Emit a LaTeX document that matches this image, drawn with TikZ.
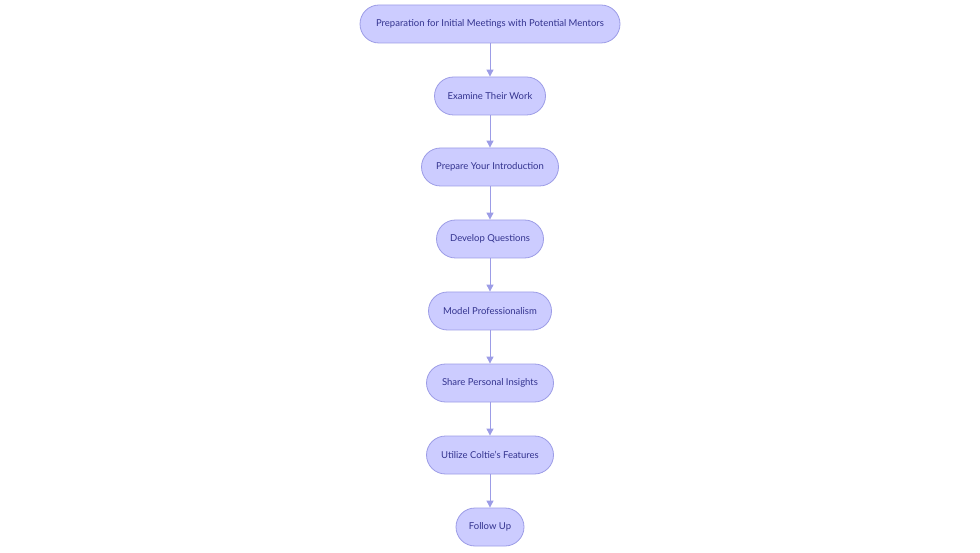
\documentclass[tikz,border=0pt]{standalone}
\usepackage{fontspec}
\setmainfont{Lato}
\usetikzlibrary{arrows.meta}
\definecolor{fillc}{HTML}{CCCCFF}
\definecolor{linec}{HTML}{9C9CE6}
\definecolor{textc}{HTML}{33338F}
\begin{document}
\begin{tikzpicture}[x=1pt,y=-1pt,
  box/.style={draw=linec,fill=fillc,rounded corners=19pt,minimum height=38pt,line width=0.8pt,text=textc,font=\fontsize{9.5}{11}\selectfont,inner sep=0pt,anchor=center},
  arr/.style={draw=linec,line width=1pt,-{Triangle[length=7pt,width=7pt]}}]
\useasboundingbox (0,0) rectangle (980,553);
\node[box,minimum width=260pt] (a) at (490,24) {Preparation for Initial Meetings with Potential Mentors};
\node[box,minimum width=111pt] (b) at (490,96) {Examine Their Work};
\node[box,minimum width=137pt] (c) at (490,167) {Prepare Your Introduction};
\node[box,minimum width=107pt] (d) at (490,239) {Develop Questions};
\node[box,minimum width=123pt] (e) at (490,311) {Model Professionalism};
\node[box,minimum width=127pt] (f) at (490,383) {Share Personal Insights};
\node[box,minimum width=127pt] (g) at (490,455) {Utilize Coltie's Features};
\node[box,minimum width=68pt] (h) at (490,527) {Follow Up};
\foreach \u/\v in {a/b,b/c,c/d,d/e,e/f,f/g,g/h} \draw[arr] (\u) -- (\v);
\end{tikzpicture}
\end{document}
